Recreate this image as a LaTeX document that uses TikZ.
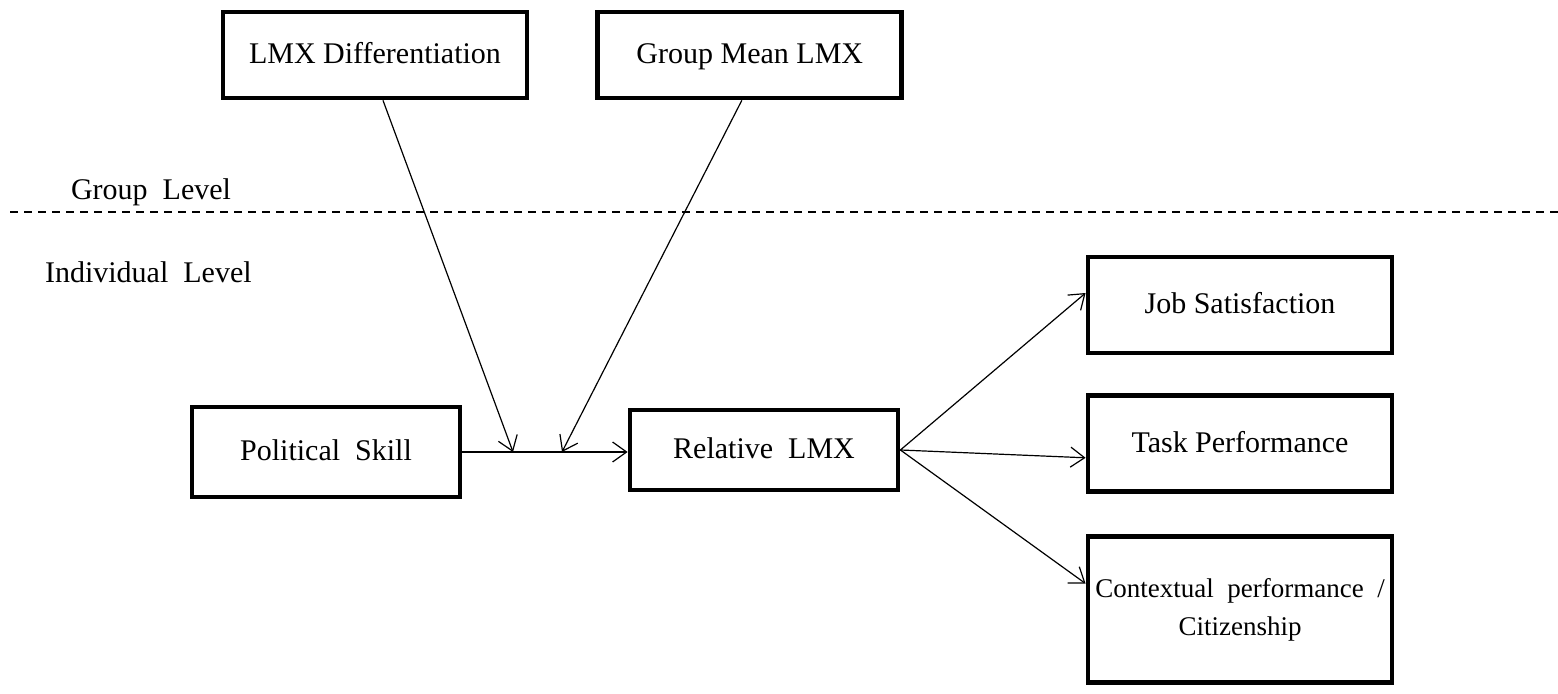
\documentclass[tikz,border=0pt]{standalone}
\usepackage{fontspec}
\setmainfont{Liberation Serif}
\usetikzlibrary{positioning,arrows.meta}

\begin{document}
\begin{tikzpicture}[x=0.5pt,y=-0.5pt]
    \tikzstyle{frame} = [rectangle, draw, line width=2.4pt, inner sep=0pt,
               minimum width=152pt, align=center,
               font=\fontsize{15}{19}\selectfont]
    \tikzstyle{block} = [frame, text height=12pt, text depth=3pt]
    \tikzstyle{line} = [draw, line width=0.6pt, -{Straight Barb[length=7pt,width=10pt]}]
    \tikzstyle{level} = [anchor=west, font=\fontsize{15}{18}\selectfont]

    \useasboundingbox (0,0) rectangle (1558,694);

    % Group level
    \node[block, minimum height=43pt] (diff) at (375,55) {LMX Differentiation};
    \node[block, minimum height=43pt, right = 33pt of diff] (mean) {Group Mean LMX};

    \node[level] (glevel) at (64,192) {Group\ \ Level};
    \coordinate (dl) at (10,212);
    \coordinate (dr) at (1558,212);
    \draw[dashed, line width=0.6pt, dash pattern=on 4pt off 3pt] (dl) -- (dr);
    \node[level] (ilevel) at (38,272) {Individual\ \ Level};

    % Individual level
    \node[block, minimum width=134pt, minimum height=45pt] (skill) at (326,452) {Political\ \ Skill};
    \node[block, minimum width=134pt, minimum height=40pt] (rel) at (764,450) {Relative\ \ LMX};

    \node[block, minimum height=48pt] (job) at (1240,305) {Job Satisfaction};
    \node[block, minimum height=48pt, below = 19pt of job] (task) {Task Performance};
    \node[frame, minimum height=73pt, below = 20pt of task,
          font=\fontsize{13.5}{19}\selectfont] (ctx)
      {\mbox{Contextual\ \ performance\ \ /}\\Citizenship};

    % Moderators hit the middle of the main path
    \coordinate (jd) at (513,452);
    \coordinate (jm) at (562,452);

    \draw[line width=0.6pt] (skill.east) -- (jm);
    \path[line] (jm) -- (jm -| rel.west);
    \path[line] ([xshift=4pt]diff.south) -- (jd);
    \path[line] ([xshift=-4pt]mean.south) -- (jm);

    \path[line] (rel.east) -- ([yshift=6pt]job.west);
    \path[line] (rel.east) -- ([yshift=-7pt]task.west);
    \path[line] (rel.east) -- ([yshift=13pt]ctx.west);
  \end{tikzpicture}
\end{document}
